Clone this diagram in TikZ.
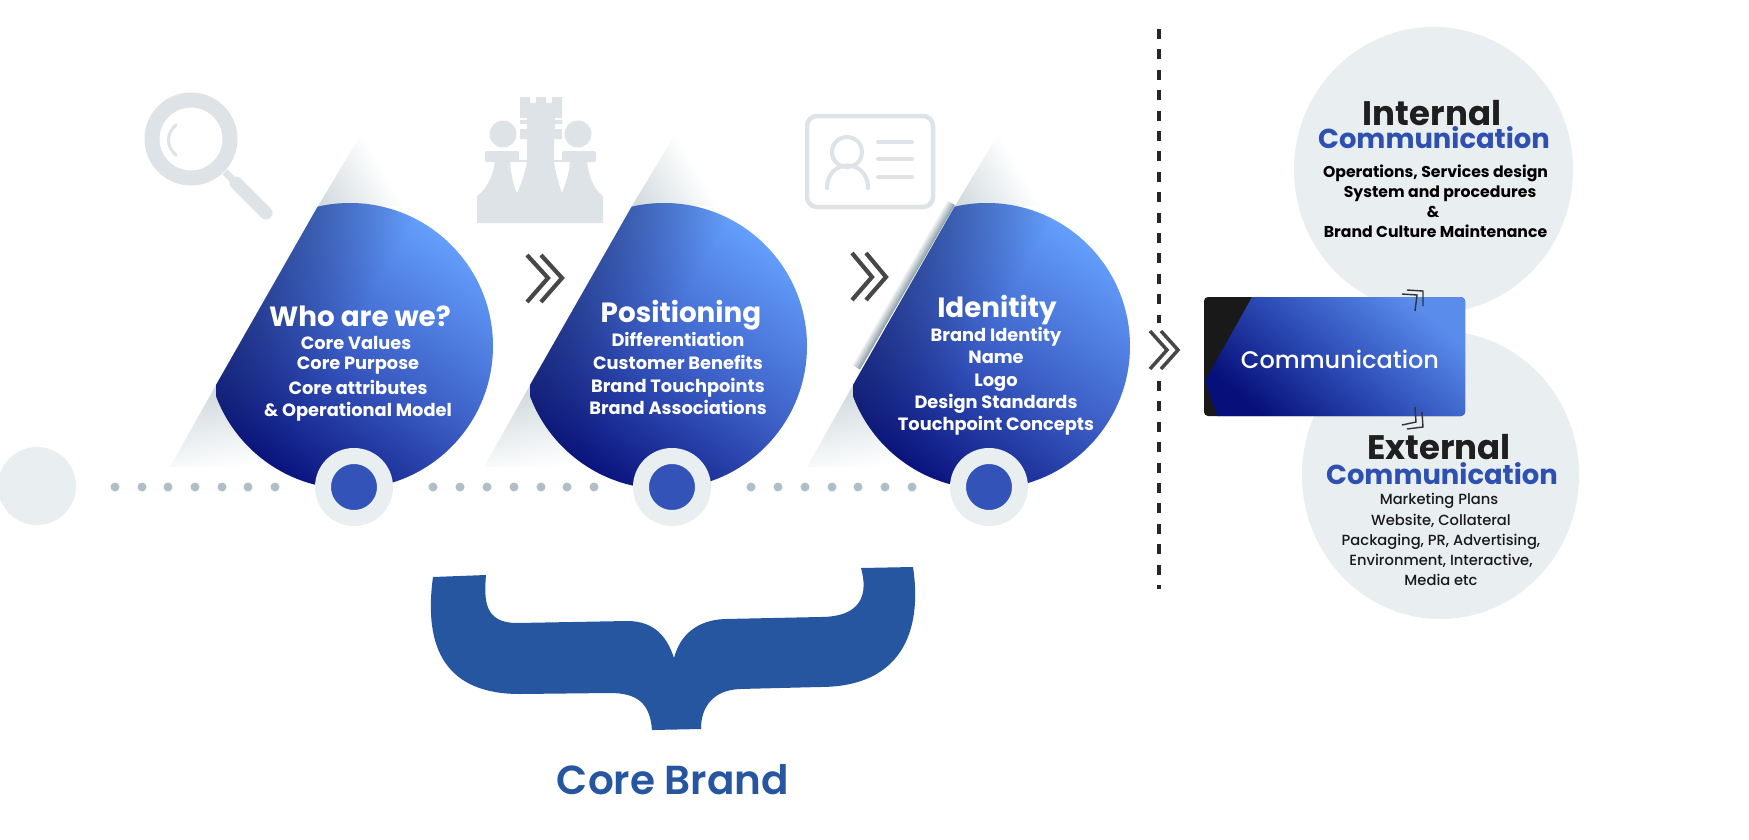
\documentclass[tikz,border=0pt]{standalone}
\usepackage{fontspec}
\setmainfont{Poppins}
\newfontfamily\popmed{Poppins Medium}
\newfontfamily\popsemi{Poppins SemiBold}
\usepackage{xcolor}
\usetikzlibrary{positioning, fadings}

\definecolor{iconGray}{HTML}{DDE3E6}
\definecolor{paleGray}{HTML}{E9EEF1}
\definecolor{dotGray}{HTML}{AEBFC7}
\definecolor{wedgeGray}{HTML}{CFD8DC}
\definecolor{slateGray}{HTML}{8498A0}
\definecolor{skyBlue}{HTML}{66A2FF}
\definecolor{midBlue}{HTML}{3C5FC6}
\definecolor{navyBlue}{HTML}{070F7A}
\definecolor{edgeBlue}{HTML}{16245F}
\definecolor{ringBlue}{HTML}{3353B8}
\definecolor{braceBlue}{HTML}{26569F}
\definecolor{headBlue}{HTML}{2E50B0}
\definecolor{chevGray}{HTML}{474747}
\definecolor{boxTop}{HTML}{5A8CEC}
\definecolor{boxMid}{HTML}{2F4FB8}

% one blue blob with its grey wedges, drawn around the first blob's position
\newcommand{\brandblob}[1]{
  \begin{scope}[shift={(#1,0)}]
    \begin{scope}
      \clip (368,123) -- (318,206) -- (420,206) -- (420,123) -- cycle;
      \shade[transform canvas={rotate around={-60:(318+#1,206)}}, top color=white, bottom color=wedgeGray] (218,131) rectangle (418,206);
    \end{scope}
    \begin{scope}
      \clip (216,385) -- (170,467) -- (300,467) -- (300,385) -- cycle;
      \shade[transform canvas={rotate around={10:(216+#1,385)}}, top color=wedgeGray, bottom color=white] (116,385) rectangle (316,470);
    \end{scope}
    \begin{scope}
      \clip (350,346) circle[radius=143pt];
      \clip (318,206) -- (216,385) -- (216,500) -- (500,500) -- (500,190) -- (327,190) -- cycle;
      \shade[top color=skyBlue, bottom color=navyBlue, middle color=midBlue, shading angle=-35] (200,196) rectangle (500,496);
      \fill[transform canvas={rotate around={-30:(293+#1,310)}}, edgeBlue, opacity=.55, path fading=east] (233,110) rectangle (353,510);
    \end{scope}
  \end{scope}
}

\begin{document}
\begin{tikzpicture}[
    x=1pt, y=-1pt,
    ringnode/.style={circle, fill=ringBlue, draw=paleGray, line width=16pt, minimum size=62pt, inner sep=0pt},
    dotnode/.style={circle, fill=dotGray, minimum size=9pt, inner sep=0pt},
    chevron/.style={draw=chevGray, line width=4.2pt},
    iconline/.style={draw=iconGray, line width=4pt, line cap=round},
    blobhead/.style={anchor=base, inner sep=0pt, text=white, font=\bfseries\fontsize{27.8}{27.8}\selectfont},
    blobline/.style={anchor=base, inner sep=0pt, text=white, font=\bfseries\fontsize{17.8}{17.8}\selectfont},
    commhead/.style={anchor=base, inner sep=0pt, text=black!88, font=\bfseries\fontsize{34}{34}\selectfont},
    commblue/.style={anchor=base, inner sep=0pt, text=headBlue, font=\bfseries\fontsize{27.4}{27.4}\selectfont},
    commline/.style={anchor=base, inner sep=0pt, text=black, font=\bfseries\fontsize{15.7}{15.7}\selectfont},
    extline/.style={anchor=base, inner sep=0pt, text=black!90, font=\popmed\fontsize{14.7}{14.7}\selectfont},
]
    \useasboundingbox (0,0) rectangle (1749,839);
    \fill[white] (0,0) rectangle (1749,839);

    % blobs
    \brandblob{0}
    \brandblob{314}
    \shade[transform canvas={rotate around={240:(955,205)}}, top color=slateGray, bottom color=white] (955,205) rectangle ++(190,10);
    \brandblob{637}

    % magnifier
    \draw[draw=iconGray, line width=15pt] (191,139) circle[radius=39pt];
    \draw[iconline, line width=3pt] (176,125) .. controls (166,133) and (166,147) .. (176,155);
    \draw[draw=iconGray, line width=7pt] (225,172) -- (236,183);
    \draw[iconline, line width=13pt] (236,183) -- (266,213);

    % chess pieces
    \fill[iconGray] (477,223) -- (477,196) .. controls (486,190) and (494,175) .. (495,160) -- (587,160) .. controls (588,175) and (594,190) .. (603,196) -- (603,223) -- cycle;
    \fill[iconGray] (503,134) circle[radius=13.5pt];
    \fill[iconGray] (578,134) circle[radius=13.5pt];
    \fill[iconGray, rounded corners=2pt] (485,151) rectangle (519,162);
    \fill[iconGray, rounded corners=2pt] (562,151) rectangle (596,162);
    \fill[iconGray] (520,97) -- (530,97) -- (530,103) -- (536,103) -- (536,97) -- (546,97) -- (546,103) -- (552,103) -- (552,97) -- (562,97) -- (562,139) -- (554,139) -- (554,165) -- (527,165) -- (527,139) -- (520,139) -- cycle;
    \fill[white] (516,118) rectangle (527,120);
    \fill[white] (516,124) rectangle (527,129);
    \fill[white] (555,118) rectangle (566,120);
    \fill[white] (555,124) rectangle (566,129);
    \fill[white] (510,162) .. controls (511,175) and (514,186) .. (517,193) .. controls (522,182) and (525,172) .. (527,162) -- cycle;
    \fill[white] (554,162) .. controls (556,174) and (559,184) .. (562,193) .. controls (565,184) and (569,174) .. (570,162) -- cycle;

    % id card
    \draw[draw=iconGray, line width=4.5pt, rounded corners=10pt] (807,116) rectangle (933,207);
    \draw[iconline] (847,152) circle[radius=15pt];
    \draw[iconline] (827,188) .. controls (827,158) and (868,158) .. (868,188);
    \draw[iconline] (878,142) -- (912,142);
    \draw[iconline] (878,159) -- (912,159);
    \draw[iconline] (878,177) -- (912,177);

    % chevrons
    \draw[chevron] (527,255) -- (548,278) -- (527,302);
    \draw[chevron] (541,255) -- (562,278) -- (541,302);
    \draw[chevron] (852,253) -- (872,277) -- (852,300);
    \draw[chevron] (866,253) -- (886,277) -- (866,300);
    \draw[chevron, line width=3.5pt] (1150,331) -- (1167,350) -- (1150,369);
    \draw[chevron, line width=3.5pt] (1161,331) -- (1178,350) -- (1161,369);

    % timeline
    \node[circle, fill=paleGray, minimum size=78pt, inner sep=0pt] (startdot) at (37,486) {};
    \foreach \x in {115,142,168,195,222,248,275,433,460,487,514,541,567,594,751,778,805,832,858,885,912}
        \node[dotnode] (dot\x) at (\x,487) {};
    \node[ringnode] (ring1) at (354,487) {};
    \node[ringnode] (ring2) at (672,487) {};
    \node[ringnode] (ring3) at (989,487) {};

    % blob texts
    \node[blobhead] (who) at (360,326) {Who are we?};
    \node[blobline] (who1) at (356,349) {Core Values};
    \node[blobline] (who2) at (358,369) {Core Purpose};
    \node[blobline] (who3) at (358,394) {Core attributes};
    \node[blobline] (who4) at (358,416) {\& Operational Model};

    \node[blobhead] (pos) at (681,322) {Positioning};
    \node[blobline] (pos1) at (678,346) {Differentiation};
    \node[blobline] (pos2) at (678,369) {Customer Benefits};
    \node[blobline] (pos3) at (678,392) {Brand Touchpoints};
    \node[blobline] (pos4) at (678,414) {Brand Associations};

    \node[blobhead] (ident) at (997,317) {Idenitity};
    \node[blobline] (ident1) at (996,341) {Brand Identity};
    \node[blobline] (ident2) at (996,363) {Name};
    \node[blobline] (ident3) at (996,386) {Logo};
    \node[blobline] (ident4) at (996,408) {Design Standards};
    \node[blobline] (ident5) at (996,430) {Touchpoint Concepts};

    % brace
    \fill[braceBlue] (433,577) -- (486,575) .. controls (484,600) and (484,623) .. (517,623)
        -- (627,621) .. controls (657,621) and (668,640) .. (674,658)
        .. controls (680,635) and (697,620) .. (725,619) -- (820,617)
        .. controls (863,617) and (868,593) .. (861,568) -- (913,567)
        .. controls (923,633) and (900,687) .. (820,687) -- (740,689)
        .. controls (713,690) and (701,707) .. (701,729) -- (652,730)
        .. controls (650,703) and (637,693) .. (610,693) -- (520,694)
        .. controls (447,694) and (423,650) .. (433,577) -- cycle;
    \node[anchor=base, text=braceBlue, font=\popsemi\fontsize{40.5}{40.5}\selectfont] (corebrand) at (673,794) {Core Brand};

    % divider
    \draw[draw=black!85, line width=4pt, dash pattern=on 10pt off 10.4pt] (1159,29) -- (1159,323);
    \draw[draw=black!85, line width=4pt, dash pattern=on 10pt off 10.4pt] (1159,381) -- (1159,589);

    % communication side
    \fill[paleGray] (1433.5,170) ellipse[x radius=139.5pt, y radius=143pt];
    \fill[paleGray] (1440.5,475) ellipse[x radius=138.5pt, y radius=144pt];
    \node[inner sep=0pt, minimum width=261pt, minimum height=119pt, fill=black!90, rounded corners=4pt] (commbox) at (1334.5,356.5) {};
    \begin{scope}
      \clip[rounded corners=4pt] (1204,297) rectangle (1465,416);
      \shade[top color=boxTop, bottom color=navyBlue, middle color=boxMid, shading angle=-40]
          (1252,297) -- (1465,297) -- (1465,416) -- (1217,416) -- (1205,381) -- cycle;
    \end{scope}
    \node[text=white, inner sep=0pt, font=\popmed\fontsize{24}{24}\selectfont] (commlabel) at (1340,359) {Communication};

    \draw[draw=black!80, line width=1.4pt] (1407,290) -- (1423,291) -- (1423,306);
    \draw[draw=black!80, line width=1.4pt] (1402,294) -- (1417,295) -- (1415,311);
    \draw[draw=black!80, line width=1.4pt] (1422,412) -- (1423,427) -- (1407,429);
    \draw[draw=black!80, line width=1.4pt] (1415,407) -- (1416,422) -- (1402,425);

    \node[commhead] (inthead) at (1432,125) {Internal};
    \node[commblue] (intblue) at (1434,148) {Communication};
    \node[commline] (int1) at (1435.5,177) {Operations, Services design};
    \node[commline] (int2) at (1440,197) {System and procedures};
    \node[commline] (int3) at (1433,217) {\&};
    \node[commline] (int4) at (1435.5,237) {Brand Culture Maintenance};

    \node[commhead] (exthead) at (1439,459) {External};
    \node[commblue] (extblue) at (1442,484) {Communication};
    \node[extline] (ext1) at (1439,504) {Marketing Plans};
    \node[extline] (ext2) at (1441,525) {Website, Collateral};
    \node[extline] (ext3) at (1441,545) {Packaging, PR, Advertising,};
    \node[extline] (ext4) at (1441,565) {Environment, Interactive,};
    \node[extline] (ext5) at (1441,585) {Media etc};
\end{tikzpicture}
\end{document}
